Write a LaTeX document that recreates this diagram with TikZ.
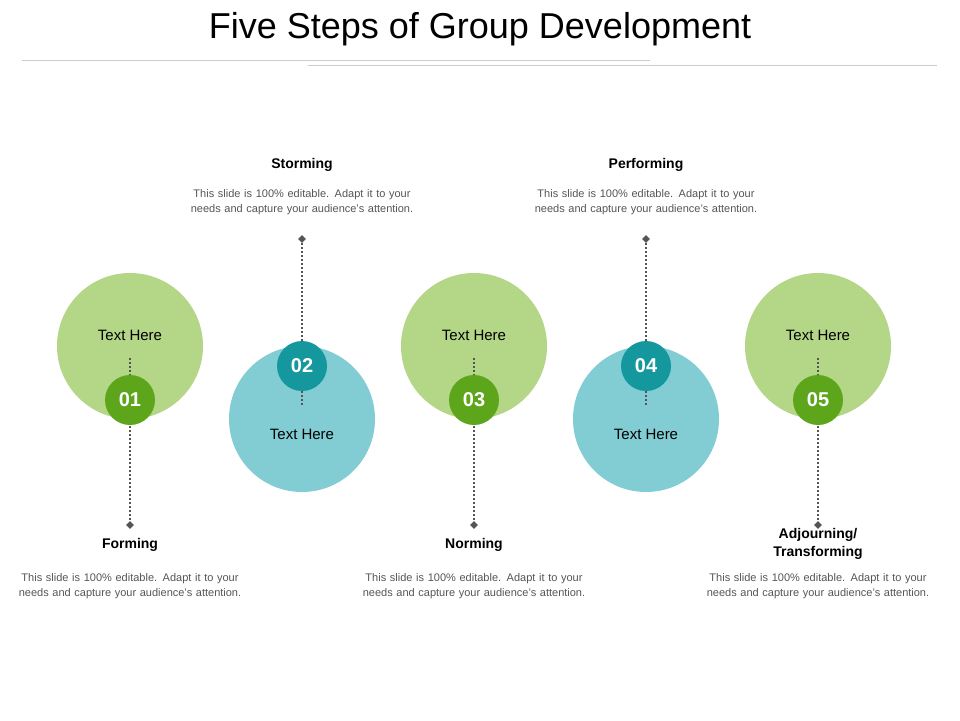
\documentclass[tikz,border=0pt]{standalone}
\usepackage{fontspec}
\setmainfont{Liberation Sans}
\usetikzlibrary{shapes.geometric}
\definecolor{biggreen}{HTML}{B3D687}
\definecolor{bigblue}{HTML}{82CDD4}
\definecolor{numgreen}{HTML}{5DA61B}
\definecolor{numblue}{HTML}{15979E}
\definecolor{dotgray}{HTML}{555555}
\definecolor{bodygray}{HTML}{555555}
\tikzset{
  bigdisc/.style={circle, minimum size=146pt, inner sep=0pt, font=\fontsize{15}{18}\selectfont},
  numdisc/.style={circle, minimum size=50pt, inner sep=0pt, text=white, font=\fontsize{20}{24}\selectfont\bfseries},
  stem/.style={dotgray, line width=2pt, dash pattern=on 2pt off 2pt},
  tip/.style={diamond, fill=dotgray, minimum size=8pt, inner sep=0pt},
  steptitle/.style={font=\fontsize{14}{18}\selectfont\bfseries, align=center},
  stepbody/.style={text=bodygray, font=\fontsize{11}{14.5}\selectfont, align=center, text width=230pt}
}
\begin{document}
\begin{tikzpicture}[x=1pt, y=-1pt]
\useasboundingbox (0,0) rectangle (960,720);

% title and rules
\node (title) at (480,29) {\fontsize{36}{40}\selectfont Five Steps of Group Development};
\draw[black!20] (22,60) -- (650,60);
\draw[black!20] (308,65) -- (937,65);

% low steps (green)
\foreach \n/\x/\name in {01/130/Forming, 03/474/Norming, 05/818/Adjourning/ Transforming} {
  \node[bigdisc, fill=biggreen] (big\n) at (\x,346) {};
  \node (txt\n) at (\x,335) {\fontsize{15}{18}\selectfont Text Here};
  \coordinate (top\n) at (\x,358);
  \node[tip] (tip\n) at (\x,525) {};
  \draw[stem] (top\n) -- (tip\n);
  \node[numdisc, fill=numgreen] (num\n) at (\x,400) {\n};
}
% high steps (blue)
\foreach \n/\x in {02/302, 04/646} {
  \node[bigdisc, fill=bigblue] (big\n) at (\x,419) {};
  \node (txt\n) at (\x,434) {\fontsize{15}{18}\selectfont Text Here};
  \coordinate (bot\n) at (\x,406);
  \node[tip] (tip\n) at (\x,239) {};
  \draw[stem] (tip\n) -- (bot\n);
  \node[numdisc, fill=numblue] (num\n) at (\x,366) {\n};
}

% labels
\node[steptitle] (ttl01) at (130,545) {Forming};
\node[steptitle] (ttl02) at (302,165) {Storming};
\node[steptitle] (ttl03) at (474,545) {Norming};
\node[steptitle] (ttl04) at (646,165) {Performing};
\node[steptitle] (ttl05) at (818,544) {Adjourning/\\Transforming};
\foreach \n/\x/\y in {01/130/586, 02/302/202, 03/474/586, 04/646/202, 05/818/586}
  \node[stepbody] (body\n) at (\x,\y) {This slide is 100\% editable. Adapt it to your needs and capture your audience's attention.};

\end{tikzpicture}
\end{document}
